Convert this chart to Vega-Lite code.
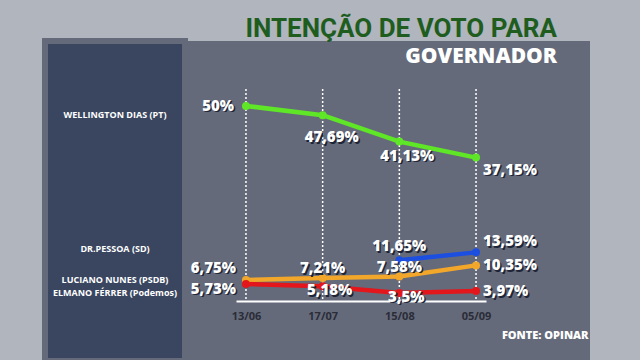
{
  "$schema": "https://vega.github.io/schema/vega-lite/v6.json",
  "background": "#b0b5be",
  "padding": {"left": 42, "top": 16, "right": 50, "bottom": 0},
  "title": {
    "text": "INTENÇÃO DE VOTO PARA",
    "subtitle": "GOVERNADOR",
    "anchor": "end",
    "orient": "top",
    "offset": -29,
    "dx": -33,
    "font": "Roboto",
    "fontSize": 26,
    "fontWeight": "bold",
    "color": "#1f5d1f",
    "subtitleFont": "Open Sans",
    "subtitleFontSize": 21,
    "subtitleFontWeight": 800,
    "subtitleColor": "#ffffff",
    "subtitlePadding": 4
  },
  "config": {"concat": {"spacing": 0}, "view": {"stroke": null}},
  "datasets": {
    "votos": [
      {"serie": "Wellington Dias", "data": "13/06", "valor": 50, "label": "50%"},
      {"serie": "Wellington Dias", "data": "17/07", "valor": 47.69, "label": "47,69%"},
      {"serie": "Wellington Dias", "data": "15/08", "valor": 41.13, "label": "41,13%"},
      {"serie": "Wellington Dias", "data": "05/09", "valor": 37.15, "label": "37,15%"},
      {"serie": "Dr. Pessoa", "data": "15/08", "valor": 11.65, "label": "11,65%"},
      {"serie": "Dr. Pessoa", "data": "05/09", "valor": 13.59, "label": "13,59%"},
      {"serie": "Luciano Nunes", "data": "13/06", "valor": 6.75, "label": "6,75%"},
      {"serie": "Luciano Nunes", "data": "17/07", "valor": 7.21, "label": "7,21%"},
      {"serie": "Luciano Nunes", "data": "15/08", "valor": 7.58, "label": "7,58%"},
      {"serie": "Luciano Nunes", "data": "05/09", "valor": 10.35, "label": "10,35%"},
      {"serie": "Elmano Férrer", "data": "13/06", "valor": 5.73, "label": "5,73%"},
      {"serie": "Elmano Férrer", "data": "17/07", "valor": 5.18, "label": "5,18%"},
      {"serie": "Elmano Férrer", "data": "15/08", "valor": 3.5, "label": "3,5%"},
      {"serie": "Elmano Férrer", "data": "05/09", "valor": 3.97, "label": "3,97%"}
    ],
    "nomes": [
      {"nome": "WELLINGTON DIAS (PT)", "valor": 50},
      {"nome": "DR.PESSOA (SD)", "valor": 11.65},
      {"nome": "LUCIANO NUNES  (PSDB)", "valor": 6.75},
      {"nome": "ELMANO FÉRRER  (Podemos)", "valor": 5.73}
    ]
  },
  "hconcat": [
    {
      "width": 140,
      "height": 320,
      "view": {"fill": "#3a4660", "stroke": "#656a7a", "strokeWidth": 6},
      "data": {"name": "nomes"},
      "encoding": {
        "y": {"field": "valor", "type": "quantitative", "scale": {"domain": [1.5, 54.2], "range": [260, 48]}, "axis": null},
        "text": {"field": "nome"}
      },
      "layer": [
        {
          "transform": [{"filter": {"field": "nome", "equal": "WELLINGTON DIAS (PT)"}}],
          "mark": {"type": "text", "dy": 9, "color": "#ffffff", "font": "Open Sans", "fontSize": 9, "fontWeight": "bold"}
        },
        {
          "transform": [{"filter": {"field": "nome", "equal": "ELMANO FÉRRER  (Podemos)"}}],
          "mark": {"type": "text", "dy": 9, "color": "#ffffff", "font": "Open Sans", "fontSize": 9, "fontWeight": "bold"}
        },
        {
          "transform": [{"filter": {"field": "nome", "equal": "DR.PESSOA (SD)"}}],
          "mark": {"type": "text", "dy": -11, "color": "#ffffff", "font": "Open Sans", "fontSize": 9, "fontWeight": "bold"}
        },
        {
          "transform": [{"filter": {"field": "nome", "equal": "LUCIANO NUNES  (PSDB)"}}],
          "mark": {"type": "text", "dy": 0, "color": "#ffffff", "font": "Open Sans", "fontSize": 9, "fontWeight": "bold"}
        }
      ]
    },
    {
      "width": 402,
      "height": 320,
      "view": {"fill": "#656a7a"},
      "data": {"name": "votos"},
      "encoding": {
        "x": {
          "field": "data",
          "type": "ordinal",
          "scale": {"type": "point", "domain": ["13/06", "17/07", "15/08", "05/09"], "range": [48, 298], "padding": 0.13},
          "axis": {
            "title": "FONTE: OPINAR",
            "titleColor": "#ffffff",
            "titleFont": "Open Sans",
            "titleFontSize": 11,
            "titleFontWeight": 800,
            "titleAnchor": "end",
            "titleAlign": "right",
            "titleX": 400,
            "titleY": 34,
            "titleBaseline": "middle",
            "orient": "bottom",
            "offset": -60,
            "domainColor": "#ffffff",
            "domainWidth": 2,
            "ticks": false,
            "grid": false,
            "labelAngle": 0,
            "labelColor": "#2a2d38",
            "labelFont": "Open Sans",
            "labelFontWeight": "bold",
            "labelFontSize": 11,
            "labelPadding": 9
          }
        },
        "y": {"field": "valor", "type": "quantitative", "scale": {"domain": [1.5, 54.2], "range": [260, 48]}, "axis": null}
      },
      "layer": [
        {
          "transform": [{"filter": {"field": "serie", "equal": "Wellington Dias"}}],
          "mark": {"type": "rule", "color": "#ffffff", "strokeDash": [2, 2], "strokeWidth": 1.5},
          "encoding": {"y": {"datum": 54.2}, "y2": {"datum": 1.5}}
        },
        {
          "mark": {"type": "line", "strokeWidth": 4.5},
          "encoding": {
            "color": {"field": "serie", "type": "nominal", "scale": {"domain": ["Wellington Dias", "Dr. Pessoa", "Luciano Nunes", "Elmano Férrer"], "range": ["#5ee627", "#1c4fe0", "#f2a72a", "#e3161b"]}, "legend": null}
          }
        },
        {
          "mark": {"type": "point", "filled": true, "size": 64, "opacity": 1},
          "encoding": {
            "color": {"field": "serie", "type": "nominal", "legend": null}
          }
        },
        {
          "transform": [{"filter": {"field": "label", "oneOf": ["50%"]}}],
          "encoding": {"text": {"field": "label"}},
          "layer": [
            {"mark": {"type": "text", "align": "right", "dx": -10.5, "dy": 1.5, "color": "#1d2435", "font": "Open Sans", "fontSize": 15, "fontWeight": 800}},
            {"mark": {"type": "text", "align": "right", "dx": -12, "dy": 0, "color": "#ffffff", "font": "Open Sans", "fontSize": 15, "fontWeight": 800}}
          ]
        },
        {
          "transform": [{"filter": {"field": "label", "oneOf": ["5,73%"]}}],
          "encoding": {"text": {"field": "label"}},
          "layer": [
            {"mark": {"type": "text", "align": "right", "dx": -8.5, "dy": 6.5, "color": "#1d2435", "font": "Open Sans", "fontSize": 15, "fontWeight": 800}},
            {"mark": {"type": "text", "align": "right", "dx": -10, "dy": 5, "color": "#ffffff", "font": "Open Sans", "fontSize": 15, "fontWeight": 800}}
          ]
        },
        {
          "transform": [{"filter": {"field": "label", "oneOf": ["6,75%"]}}],
          "encoding": {"text": {"field": "label"}},
          "layer": [
            {"mark": {"type": "text", "align": "right", "dx": -8.5, "dy": -10.5, "color": "#1d2435", "font": "Open Sans", "fontSize": 15, "fontWeight": 800}},
            {"mark": {"type": "text", "align": "right", "dx": -10, "dy": -12, "color": "#ffffff", "font": "Open Sans", "fontSize": 15, "fontWeight": 800}}
          ]
        },
        {
          "transform": [{"filter": {"field": "label", "oneOf": ["10,35%", "3,97%"]}}],
          "encoding": {"text": {"field": "label"}},
          "layer": [
            {"mark": {"type": "text", "align": "left", "dx": 8.5, "dy": 1.5, "color": "#1d2435", "font": "Open Sans", "fontSize": 15, "fontWeight": 800}},
            {"mark": {"type": "text", "align": "left", "dx": 7, "dy": 0, "color": "#ffffff", "font": "Open Sans", "fontSize": 15, "fontWeight": 800}}
          ]
        },
        {
          "transform": [{"filter": {"field": "label", "oneOf": ["37,15%"]}}],
          "encoding": {"text": {"field": "label"}},
          "layer": [
            {"mark": {"type": "text", "align": "left", "dx": 8.5, "dy": 13.5, "color": "#1d2435", "font": "Open Sans", "fontSize": 15, "fontWeight": 800}},
            {"mark": {"type": "text", "align": "left", "dx": 7, "dy": 12, "color": "#ffffff", "font": "Open Sans", "fontSize": 15, "fontWeight": 800}}
          ]
        },
        {
          "transform": [{"filter": {"field": "label", "oneOf": ["13,59%"]}}],
          "encoding": {"text": {"field": "label"}},
          "layer": [
            {"mark": {"type": "text", "align": "left", "dx": 8.5, "dy": -9.5, "color": "#1d2435", "font": "Open Sans", "fontSize": 15, "fontWeight": 800}},
            {"mark": {"type": "text", "align": "left", "dx": 7, "dy": -11, "color": "#ffffff", "font": "Open Sans", "fontSize": 15, "fontWeight": 800}}
          ]
        },
        {
          "transform": [{"filter": {"field": "label", "oneOf": ["11,65%"]}}],
          "encoding": {"text": {"field": "label"}},
          "layer": [
            {"mark": {"type": "text", "align": "center", "dx": 1.5, "dy": -12.5, "color": "#1d2435", "font": "Open Sans", "fontSize": 15, "fontWeight": 800}},
            {"mark": {"type": "text", "align": "center", "dx": 0, "dy": -14, "color": "#ffffff", "font": "Open Sans", "fontSize": 15, "fontWeight": 800}}
          ]
        },
        {
          "transform": [{"filter": {"field": "label", "oneOf": ["7,58%", "7,21%"]}}],
          "encoding": {"text": {"field": "label"}},
          "layer": [
            {"mark": {"type": "text", "align": "center", "dx": 1.5, "dy": -8.5, "color": "#1d2435", "font": "Open Sans", "fontSize": 15, "fontWeight": 800}},
            {"mark": {"type": "text", "align": "center", "dx": 0, "dy": -10, "color": "#ffffff", "font": "Open Sans", "fontSize": 15, "fontWeight": 800}}
          ]
        },
        {
          "transform": [{"filter": {"field": "label", "oneOf": ["47,69%"]}}],
          "encoding": {"text": {"field": "label"}},
          "layer": [
            {"mark": {"type": "text", "align": "center", "dx": 10.5, "dy": 23.5, "color": "#1d2435", "font": "Open Sans", "fontSize": 15, "fontWeight": 800}},
            {"mark": {"type": "text", "align": "center", "dx": 9, "dy": 22, "color": "#ffffff", "font": "Open Sans", "fontSize": 15, "fontWeight": 800}}
          ]
        },
        {
          "transform": [{"filter": {"field": "label", "oneOf": ["41,13%"]}}],
          "encoding": {"text": {"field": "label"}},
          "layer": [
            {"mark": {"type": "text", "align": "center", "dx": 9.5, "dy": 15.5, "color": "#1d2435", "font": "Open Sans", "fontSize": 15, "fontWeight": 800}},
            {"mark": {"type": "text", "align": "center", "dx": 8, "dy": 14, "color": "#ffffff", "font": "Open Sans", "fontSize": 15, "fontWeight": 800}}
          ]
        },
        {
          "transform": [{"filter": {"field": "label", "oneOf": ["5,18%", "3,5%"]}}],
          "encoding": {"text": {"field": "label"}},
          "layer": [
            {"mark": {"type": "text", "align": "center", "dx": 8.5, "dy": 5.5, "color": "#1d2435", "font": "Open Sans", "fontSize": 15, "fontWeight": 800}},
            {"mark": {"type": "text", "align": "center", "dx": 7, "dy": 4, "color": "#ffffff", "font": "Open Sans", "fontSize": 15, "fontWeight": 800}}
          ]
        }
      ]
    }
  ]
}
